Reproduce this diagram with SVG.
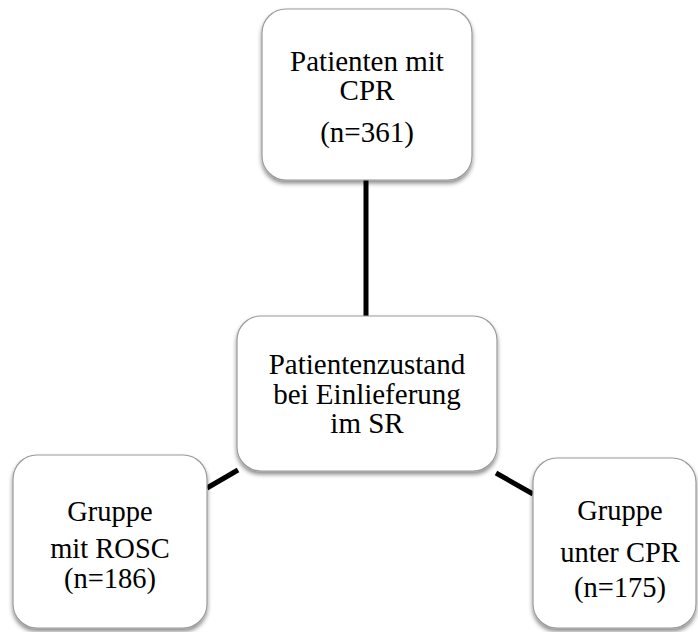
<svg xmlns="http://www.w3.org/2000/svg" width="698" height="632" viewBox="0 0 698 632">
  <defs>
    <filter id="shadow" x="-10%" y="-10%" width="120%" height="125%">
      <feDropShadow dx="0" dy="3" stdDeviation="2" flood-color="#000" flood-opacity="0.45"/>
    </filter>
    <style>
      .box { fill: #ffffff; stroke: #9a9a9a; stroke-width: 1.2; filter: url(#shadow); }
      .label { font-family: "Liberation Serif", "Times New Roman", serif; font-size: 29px; fill: #000; text-anchor: middle; }
      .small { font-size: 28.5px; }
      .link { stroke: #000; stroke-width: 5; fill: none; }
    </style>
  </defs>
  <rect width="698" height="632" fill="#ffffff"/>

  <!-- connectors -->
  <g id="connectors">
    <line class="link" x1="366" y1="180" x2="366" y2="316"/>
    <line class="link" x1="207" y1="488" x2="238" y2="470"/>
    <line class="link" x1="496" y1="473" x2="533" y2="494"/>
  </g>

  <!-- top node -->
  <g id="node-patients">
    <rect class="box" x="262" y="9" width="210" height="171" rx="24" ry="24"/>
    <text class="label" x="367" y="71">Patienten mit</text>
    <text class="label" x="367" y="100">CPR</text>
    <text class="label" x="367" y="142">(n=361)</text>
  </g>

  <!-- centre node -->
  <g id="node-condition">
    <rect class="box" x="237" y="316" width="260" height="155" rx="24" ry="24"/>
    <text class="label" x="367" y="374">Patientenzustand</text>
    <text class="label" x="367" y="404">bei Einlieferung</text>
    <text class="label" x="367" y="433">im SR</text>
  </g>

  <!-- lower left node -->
  <g id="node-rosc">
    <rect class="box" x="13" y="455" width="194" height="173" rx="24" ry="24"/>
    <text class="label small" x="110" y="521">Gruppe</text>
    <text class="label small" x="110" y="558">mit ROSC</text>
    <text class="label small" x="110" y="588">(n=186)</text>
  </g>

  <!-- lower right node -->
  <g id="node-cpr">
    <rect class="box" x="533" y="458" width="163" height="170" rx="24" ry="24"/>
    <text class="label small" x="620" y="520">Gruppe</text>
    <text class="label small" x="620" y="562">unter CPR</text>
    <text class="label small" x="620" y="597">(n=175)</text>
  </g>
</svg>
